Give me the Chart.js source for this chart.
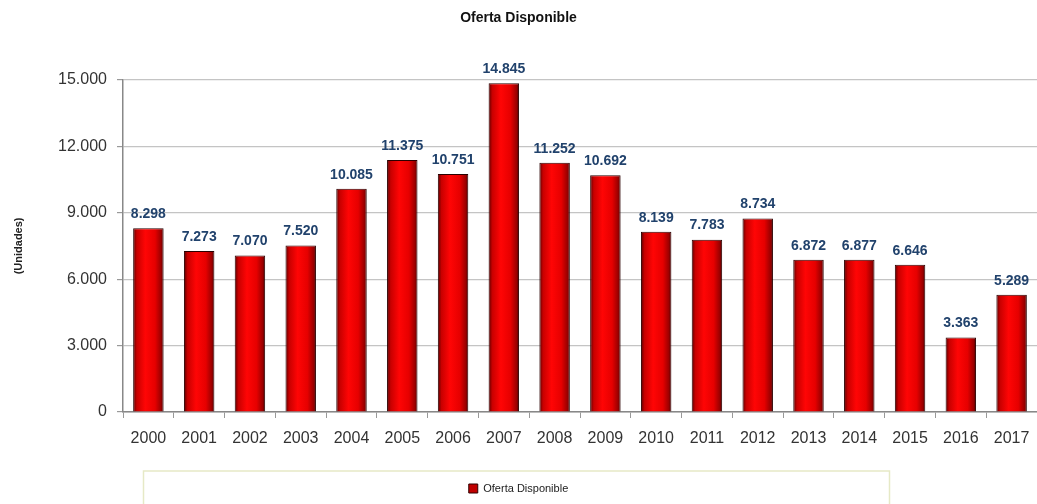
<!DOCTYPE html>
<html>
<head>
<meta charset="utf-8">
<script src="https://cdn.jsdelivr.net/npm/chart.js@4.4.1/dist/chart.umd.min.js"></script>
<style>
  html, body { margin: 0; padding: 0; background: #fff; }
  #wrap { width: 1037px; height: 504px; position: relative; }
</style>
</head>
<body>
<div id="wrap"><canvas id="chart"></canvas></div>
<script>
// yearly available supply (units)
const years = ['2000', '2001', '2002', '2003', '2004', '2005', '2006', '2007', '2008',
               '2009', '2010', '2011', '2012', '2013', '2014', '2015', '2016', '2017'];
const oferta = [8298, 7273, 7070, 7520, 10085, 11375, 10751, 14845, 11252,
                10692, 8139, 7783, 8734, 6872, 6877, 6646, 3363, 5289];
const yTicks = [0, 3000, 6000, 9000, 12000, 15000];

const FONT = '"Liberation Sans", Arial, sans-serif';

function fmt(v) {
  return String(v).replace(/\B(?=(\d{3})+(?!\d))/g, '.');
}

// shaded fill for each bar: dark edges, bright red towards the middle
function barFill(ctx) {
  const chart = ctx.chart;
  const xs = chart.scales.x;
  if (!xs || !chart.chartArea || ctx.dataIndex === undefined) return '#e00000';
  const cx = xs.getPixelForValue(ctx.dataIndex);
  const w = xs.width / years.length * 0.6;
  const g = chart.ctx.createLinearGradient(cx - w / 2, 0, cx + w / 2, 0);
  g.addColorStop(0, '#5a0000');
  g.addColorStop(0.12, '#c80000');
  g.addColorStop(0.4, '#ff0505');
  g.addColorStop(0.72, '#e60000');
  g.addColorStop(0.92, '#9a0000');
  g.addColorStop(1, '#4a0000');
  return g;
}

// value labels above bars
const valueLabels = {
  id: 'valueLabels',
  afterDatasetsDraw(chart) {
    const c = chart.ctx;
    const meta = chart.getDatasetMeta(0);
    c.save();
    c.font = 'bold 14px ' + FONT;
    c.fillStyle = '#21426c';
    c.textAlign = 'center';
    c.textBaseline = 'middle';
    meta.data.forEach((bar, i) => {
      c.fillText(fmt(oferta[i]), bar.x, bar.y - 14);
    });
    c.restore();
  }
};

// frame around the legend
const legendFrame = {
  id: 'legendFrame',
  beforeDraw(chart) {
    const lg = chart.legend;
    if (!lg) return;
    const c = chart.ctx;
    const cx = chart.width / 2 - 2;
    c.save();
    c.strokeStyle = '#e6e9c6';
    c.lineWidth = 1.5;
    c.strokeRect(cx - 373, lg.top + 6, 746, 60);
    c.restore();
  }
};

new Chart(document.getElementById('chart'), {
  type: 'bar',
  data: {
    labels: years,
    datasets: [{
      label: 'Oferta Disponible',
      data: oferta,
      backgroundColor: barFill,
      borderColor: '#2a0000',
      borderWidth: 1,
      barPercentage: 0.6,
      categoryPercentage: 1.0
    }]
  },
  options: {
    responsive: true,
    maintainAspectRatio: false,
    animation: false,
    layout: {
      padding: { left: 0, right: 0, top: 0, bottom: 0 }
    },
    plugins: {
      title: {
        display: true,
        text: 'Oferta Disponible',
        color: '#111',
        font: { family: FONT, size: 14, weight: 'bold' },
        padding: { top: 10, bottom: 53 }
      },
      legend: {
        display: true,
        position: 'bottom',
        labels: {
          color: '#222',
          font: { family: FONT, size: 11 },
          boxWidth: 9,
          boxHeight: 9,
          padding: 18,
          generateLabels(chart) {
            return [{
              text: 'Oferta Disponible',
              fillStyle: '#c00000',
              strokeStyle: '#300000',
              lineWidth: 1,
              fontColor: '#222',
              datasetIndex: 0
            }];
          }
        }
      },
      tooltip: { enabled: false }
    },
    scales: {
      x: {
        afterFit(axis) {
          axis.height = 53;
          axis.paddingRight = 0;
        },
        grid: {
          display: true,
          drawOnChartArea: false,
          drawTicks: true,
          tickLength: 6,
          color: '#999'
        },
        border: { color: '#888', width: 1.5 },
        ticks: {
          color: '#333',
          font: { family: FONT, size: 16 },
          padding: 11,
          maxRotation: 0,
          autoSkip: false
        }
      },
      y: {
        min: 0,
        max: 15000,
        afterBuildTicks(axis) {
          axis.ticks = yTicks.map(v => ({ value: v }));
        },
        afterFit(axis) {
          axis.width = 123;
        },
        grid: {
          color: '#c4c4c4',
          lineWidth: 1.2,
          tickLength: 6,
          tickColor: '#999'
        },
        border: { color: '#888', width: 1.5 },
        ticks: {
          color: '#333',
          font: { family: FONT, size: 16 },
          padding: 10,
          callback: v => fmt(v)
        },
        title: {
          display: true,
          text: '(Unidades)',
          color: '#222',
          font: { family: FONT, size: 11, weight: 'bold' },
          padding: { top: 12, bottom: 0 }
        }
      }
    }
  },
  plugins: [valueLabels, legendFrame]
});
</script>
</body>
</html>
